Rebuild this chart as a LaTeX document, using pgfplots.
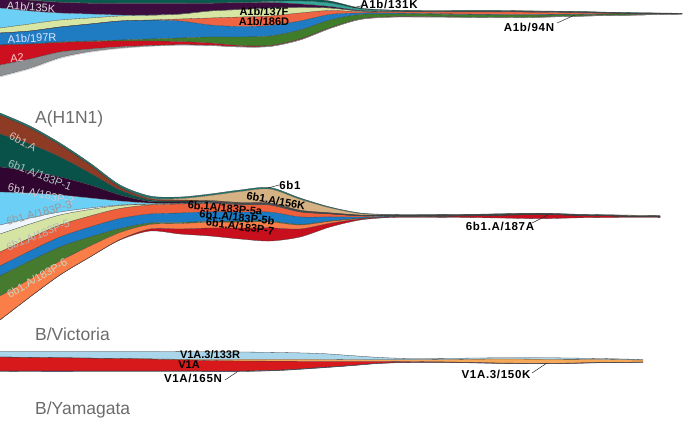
\documentclass[border=0pt]{standalone}
\usepackage{pgfplots}
\pgfplotsset{compat=1.18}
\usepackage{pgfplotstable}
\usepgfplotslibrary{fillbetween}
\usepackage{fontspec}
\setmainfont{Liberation Sans}
\newfontfamily\callfont[LetterSpace=6]{Liberation Sans}

% top stream
\definecolor{aDteal}{HTML}{0A5A4F}
\definecolor{aAqua}{HTML}{33A89A}
\definecolor{aPurple}{HTML}{3C0D3E}
\definecolor{aLblue}{HTML}{6CCFF6}
\definecolor{aLgreen}{HTML}{D8E6A4}
\definecolor{aOrange}{HTML}{EF6443}
\definecolor{aBlue}{HTML}{1F7CC2}
\definecolor{aGreen}{HTML}{3F7D2B}
\definecolor{aRed}{HTML}{CC1020}
\definecolor{aGrey}{HTML}{8D9093}
\definecolor{aWhite}{HTML}{F2F2F2}
% A(H1N1)
\definecolor{bTeal}{HTML}{1B7A6E}
\definecolor{bTan}{HTML}{D5B283}
\definecolor{bBrown}{HTML}{8D3B24}
\definecolor{bDteal}{HTML}{08524A}
\definecolor{bPurple}{HTML}{30052F}
\definecolor{bLblue}{HTML}{6CCFF6}
\definecolor{bWhite}{HTML}{EEF6FC}
\definecolor{bLgreen}{HTML}{D6E4A3}
\definecolor{bOrange}{HTML}{EE5F3C}
\definecolor{bBlue}{HTML}{1B7BC4}
\definecolor{bGreen}{HTML}{467A2E}
\definecolor{bLorange}{HTML}{FB7D48}
\definecolor{bRed}{HTML}{C70F1E}
% B/Victoria
\definecolor{cLblue}{HTML}{A9D6EA}
\definecolor{cOrange}{HTML}{F4A858}
\definecolor{cRed}{HTML}{D7191C}
\definecolor{cNavy}{HTML}{203060}
\definecolor{ttlgray}{HTML}{6B6B6B}

% boundaries of the bands, top to bottom, in pixel rows
\pgfplotstableread{
x s0 s1 s2 s3 s4 s5 s6 s7 s8 s9 s10 s11
0 -30 -2 -1.7 8 28 33 33 45 45 65 76 77
30 -28 0 0.3 11 24 31 31 44 44 59 68 69
60 -25 2 2.3 13 20 27 27 42 42.5 52 57.5 58.5
90 -22 3 3.3 14 18 24 24 41 41.5 49 51.5 52.3
120 -20 3 3.3 15 16 21 21 40 41 46.8 48 48.6
150 -18 3 3.3 15 15.3 20 20.2 39 41 45.5 46 46.4
180 -16 3 3.3 14 14.2 19 21 38 41.5 44.7 45 45.2
210 -14 3 3.3 11 11 18 25 37 43 45.2 45.5 45.6
240 -12 2.5 2.8 9.5 9.5 17 26.5 37 45.5 46.7 47 47
270 -8 1.5 2.5 8 8 16 25.5 36 45.5 46.2 46.5 46.5
300 -2 1 4 7.5 7.5 13 21 30 39 39.7 40 40
330 1 3 6.5 8 8 10.5 14.5 20 27.8 28.2 28.5 28.5
360 8 9 10.5 11 11 11.8 13 14.5 19 19.3 19.5 19.5
390 10 10.7 11.2 11.5 11.5 12 13 14 16.8 17 17.2 17.2
420 10.5 11 11.4 11.7 11.7 12 13.5 14 16.7 16.9 17 17
460 10.5 11 11.4 11.7 11.7 11.9 14 14.5 17 17.1 17.2 17.2
500 10.5 11 11.4 11.7 11.7 11.9 14.5 15 17.5 17.6 17.7 17.7
540 11 11.3 11.7 12 12 12.2 14.5 15 17 17.1 17.2 17.2
580 11.5 11.8 12.1 12.3 12.3 12.5 14 14.4 16 16.1 16.2 16.2
620 12.5 12.8 13 13.2 13.2 13.3 13.8 14.1 15.2 15.3 15.3 15.3
660 13 13.2 13.4 13.5 13.5 13.6 13.7 13.8 14.6 14.6 14.6 14.6
682 13.3 13.4 13.5 13.6 13.6 13.6 13.6 13.7 14 14 14 14
}\streamA

\pgfplotstableread{
x b0 b1 b2 b3 b4 b5 b6 b7 b8 b9 b10 b11 b12 b13
0 113 115 115 134 167 192 225 234 252 266 276 296 320 320
30 126 128 128 144 171 193 218 224 238 251 261 279 297 297
60 143 145 145 157 177 195 212 215 225 237 247 261 275 275
90 163 165 165 173 185 198 208 209.5 216 227 237 246 257 257
120 185 187 187 190 195 201 205 205.5 208.5 218.5 228.5 232.5 239.5 240
150 196 198 198.5 200 201.5 203 204 204.2 205 214 223 224.5 229 231
180 197 198.5 200 201 202 203 203.5 203.6 204 213 222.5 223.5 229 234
210 194 195.5 200.5 201.2 201.9 202.6 202.9 203 203.3 211.8 221.3 222.3 228 236
240 190 191.5 202.5 203 203.5 204 204.3 204.4 204.6 212.1 221.1 222.1 228.1 239
270 187.5 189 203 203.5 204 204.5 204.8 204.9 205.1 212.1 221.1 221.9 227.9 241
300 198 199.2 210.2 210.6 211 211.4 211.6 211.7 211.9 216.9 224.4 225 229 237
330 207 207.8 212.8 213.1 213.4 213.7 213.8 213.8 213.9 216.9 220.9 221.3 223.3 227
360 213 213.5 215 215.2 215.4 215.6 215.7 215.7 215.8 217 218.3 218.5 219 220
390 214.5 214.8 215.2 215.3 215.5 215.6 215.6 215.6 215.6 216.1 216.7 216.8 217 217.5
420 214.7 214.9 215.2 215.3 215.5 215.6 215.6 215.6 215.6 216 216.5 216.6 216.8 217.3
460 214.5 214.7 215 215 215.3 215.5 215.5 215.5 215.5 215.5 216 216 216 217.5
500 213.8 214 214.3 214.3 214.7 215 215 215 215 215 215.3 215.3 215.3 218
540 213.2 213.4 213.7 213.7 214 214.3 214.3 214.3 214.3 214.3 214.5 214.5 214.5 218.7
580 214.3 214.5 214.9 214.9 215.1 215.3 215.3 215.3 215.3 215.3 215.3 215.3 215.3 217.8
620 215 215.2 216 216 216 216 216 216 216 216 216 216 216 217.5
660 215.5 215.7 216.9 216.9 216.9 216.9 216.9 216.9 216.9 216.9 216.9 216.9 216.9 217.5
}\streamB

\pgfplotstableread{
x t0 t1 t2 t3 t4
0 351.5 357 357 371 371.3
40 351.5 357.5 357.5 371 371.5
80 351.5 358 358 371 371.5
120 351.5 358.5 358.6 371 371.5
160 351.5 359 359.3 371 371.5
200 351.8 359.5 360.3 371 371.5
240 352 359.5 361 371 371.5
280 352.5 359.5 361.2 370 370.5
320 353.5 359.5 361.3 367.5 368
350 355.5 359.7 361.3 365.5 365.8
380 357.5 359.8 361.3 363.2 363.4
410 358.5 359.8 361.5 362.5 362.6
450 358.3 359.5 362 362.5 362.6
500 357.8 359 363 363.2 363.3
550 357.8 359.3 363.3 363.5 363.6
600 358.5 359.5 362.6 362.7 362.8
643 359.5 360 362 362.1 362.2
}\streamC

\begin{document}
\begin{tikzpicture}[
    inb/.style={font=\fontsize{11}{12}\selectfont\bfseries, inner sep=0pt},
    call/.style={font=\callfont\fontsize{11.5}{13}\selectfont\bfseries, inner sep=0pt},
    lite/.style={font=\fontsize{11}{13}\selectfont, inner sep=0pt},
    ttl/.style={font=\fontsize{17.5}{20}\selectfont, text=ttlgray, anchor=base west, inner sep=0pt},
]
\begin{axis}[
    width=685pt, height=425pt, scale only axis, hide axis,
    xmin=0, xmax=685, ymin=0, ymax=425, y dir=reverse,
    bnd/.style={smooth, tension=0.5, draw=black!75, line width=0.3pt},
]
% top stream
\pgfplotsinvokeforeach{0,...,10}{\addplot[bnd, name path=A#1] table[x=x, y=s#1]{\streamA};}
\addplot[bnd, draw=gray!60, name path=A11] table[x=x, y=s11]{\streamA};
\addplot[fill=aDteal] fill between[of=A0 and A1];
\addplot[fill=aAqua] fill between[of=A1 and A2];
\addplot[fill=aPurple] fill between[of=A2 and A3];
\addplot[fill=aLblue] fill between[of=A3 and A4];
\addplot[fill=aLgreen] fill between[of=A4 and A5];
\addplot[fill=aOrange] fill between[of=A5 and A6];
\addplot[fill=aBlue] fill between[of=A6 and A7];
\addplot[fill=aGreen] fill between[of=A7 and A8];
\addplot[fill=aRed] fill between[of=A8 and A9];
\addplot[fill=aGrey] fill between[of=A9 and A10];
\addplot[fill=aWhite] fill between[of=A10 and A11];

% A(H1N1)
\pgfplotsinvokeforeach{0,...,13}{\addplot[bnd, name path=B#1] table[x=x, y=b#1]{\streamB};}
\addplot[fill=bTeal] fill between[of=B0 and B1];
\addplot[fill=bTan] fill between[of=B1 and B2];
\addplot[fill=bBrown] fill between[of=B2 and B3];
\addplot[fill=bDteal] fill between[of=B3 and B4];
\addplot[fill=bPurple] fill between[of=B4 and B5];
\addplot[fill=bLblue] fill between[of=B5 and B6];
\addplot[fill=bWhite] fill between[of=B6 and B7];
\addplot[fill=bLgreen] fill between[of=B7 and B8];
\addplot[fill=bOrange] fill between[of=B8 and B9];
\addplot[fill=bBlue] fill between[of=B9 and B10];
\addplot[fill=bGreen] fill between[of=B10 and B11];
\addplot[fill=bLorange] fill between[of=B11 and B12];
\addplot[fill=bRed] fill between[of=B12 and B13];

% B/Victoria
\pgfplotsinvokeforeach{0,...,4}{\addplot[bnd, name path=C#1] table[x=x, y=t#1]{\streamC};}
\addplot[fill=cLblue] fill between[of=C0 and C1];
\addplot[fill=cOrange] fill between[of=C1 and C2];
\addplot[fill=cRed] fill between[of=C2 and C3];
\addplot[fill=cNavy] fill between[of=C3 and C4];

% titles
\node[ttl] at (axis cs:35,124) {A(H1N1)};
\node[ttl] at (axis cs:35,341) {B/Victoria};
\node[ttl] at (axis cs:35,415) {B/Yamagata};

% labels, top stream
\node[lite, text=black!15!white, rotate=-4] at (axis cs:31,7) {A1b/135K};
\node[lite, text=blue!10!white, rotate=3] at (axis cs:32,38) {A1b/197R};
\node[lite, text=red!20!white, rotate=4] at (axis cs:17,58) {A2};
\node[inb] at (axis cs:264,11.5) {A1b/137F};
\node[inb] at (axis cs:264,22) {A1b/186D};
\node[call] at (axis cs:389,4.5) {A1b/131K};
\draw[black!85, line width=0.5pt] (axis cs:363,5.5) -- (axis cs:352,8);
\node[call] at (axis cs:529,27.5) {A1b/94N};
\draw[black!85, line width=0.5pt] (axis cs:557,23) -- (axis cs:575,15);

% labels, A(H1N1)
\node[lite, text=bBrown!35!white, rotate=-28] at (axis cs:23,142) {6b1.A};
\node[lite, text=bDteal!35!white, rotate=-22] at (axis cs:40,175) {6b1.A/183P-1};
\node[lite, text=bPurple!22!white, rotate=-12] at (axis cs:41,194) {6b1.A/183P-2};
\node[lite, text=black!40, rotate=15] at (axis cs:39,213) {6b1.A/183P-3};
\node[lite, text=black!28, rotate=22] at (axis cs:38,235) {6b1.A/183P-5};
\node[lite, text=bGreen!30!white, rotate=30] at (axis cs:37,278) {6b1.A/183P-6};
\node[call] at (axis cs:290,185.5) {6b1};
\draw[black!85, line width=0.5pt] (axis cs:279,185) -- (axis cs:268,188);
\node[inb, rotate=-10] at (axis cs:276,201) {6b1.A/156K};
\node[inb, rotate=-5] at (axis cs:225,208) {6b.1A/183P-5a};
\node[inb, rotate=-6] at (axis cs:237,217.5) {6b1.A/183P-5b};
\node[inb, rotate=-8] at (axis cs:240,226.5) {6b1.A/183P-7};
\node[call] at (axis cs:500,226) {6b1.A/187A};
\draw[black!85, line width=0.5pt] (axis cs:532,223) -- (axis cs:548,215);

% labels, B/Victoria
\node[inb] at (axis cs:210,355) {V1A.3/133R};
\node[inb] at (axis cs:189,365) {V1A};
\node[call] at (axis cs:193,378) {V1A/165N};
\draw[black!85, line width=0.5pt] (axis cs:225,380) -- (axis cs:237,372);
\node[call] at (axis cs:496,374) {V1A.3/150K};
\draw[black!85, line width=0.5pt] (axis cs:532,373) -- (axis cs:547,363);
\end{axis}
\end{tikzpicture}
\end{document}
